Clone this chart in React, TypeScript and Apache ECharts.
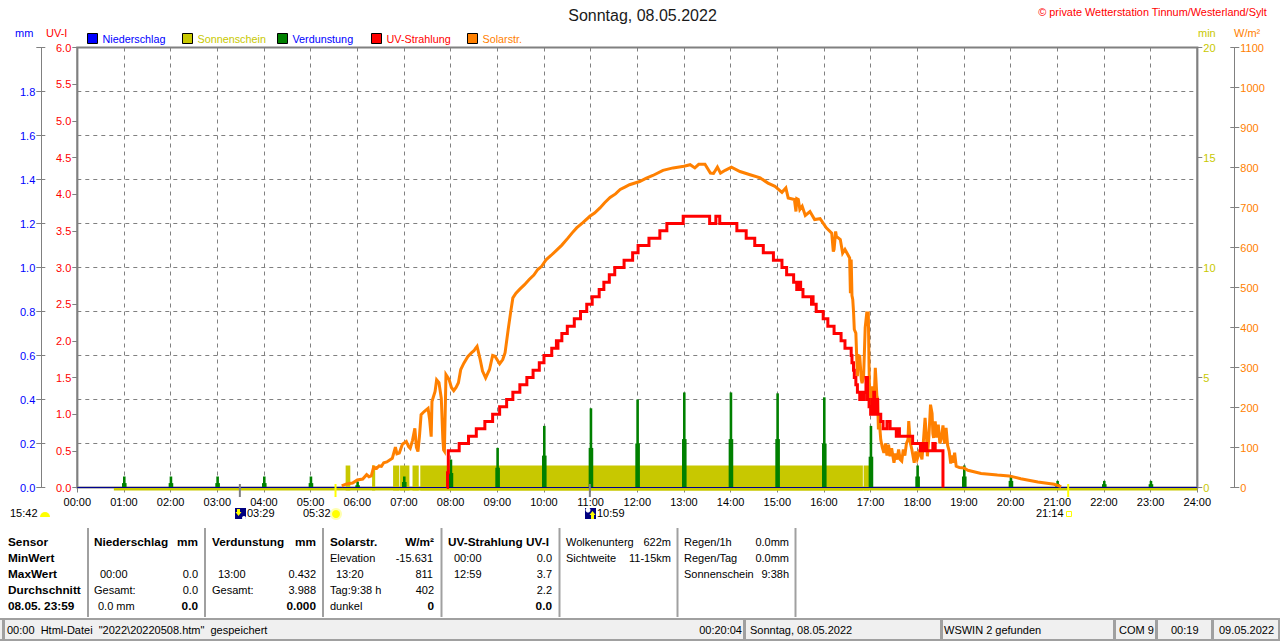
import React, { useEffect, useRef } from "react";
import * as echarts from "echarts";

const FONT = '"Liberation Sans", Arial, sans-serif';
const title = "Sonntag, 08.05.2022";
const copyright = "© private Wetterstation Tinnum/Westerland/Sylt";

// Solar radiation [time, W/m²]
const solar: [string, number][] = [
  ["05:40", 4], ["05:46", 9], ["05:54", 11], ["06:00", 19], ["06:07", 21], ["06:12", 32], ["06:15", 27], ["06:18", 29],
  ["06:21", 51], ["06:25", 48], ["06:28", 54], ["06:31", 53], ["06:34", 62], ["06:38", 64], ["06:45", 73], ["06:49", 101],
  ["06:51", 84], ["06:54", 86], ["06:58", 108], ["07:03", 115], ["07:06", 102], ["07:08", 98], ["07:11", 118], ["07:14", 148],
  ["07:16", 100], ["07:18", 90], ["07:20", 130], ["07:22", 182], ["07:26", 190], ["07:31", 198], ["07:33", 170], ["07:35", 127],
  ["07:36", 215], ["07:40", 240], ["07:42", 269], ["07:45", 262], ["07:48", 223], ["07:50", 120], ["07:51", 94], ["07:52", 91],
  ["07:54", 282], ["07:58", 270], ["08:01", 250], ["08:04", 242], ["08:07", 250], ["08:10", 262], ["08:13", 295], ["08:17", 311],
  ["08:22", 327], ["08:27", 337], ["08:30", 342], ["08:32", 348], ["08:34", 353], ["08:38", 320], ["08:41", 291], ["08:45", 274],
  ["08:50", 295], ["08:54", 330], ["08:57", 328], ["09:03", 309], ["09:07", 320], ["09:10", 337], ["09:14", 395], ["09:17", 436],
  ["09:20", 474], ["09:24", 486], ["09:29", 496], ["09:35", 507], ["09:41", 520], ["09:47", 531], ["09:52", 545], ["09:57", 553], ["10:03", 570], ["10:09", 580], ["10:16", 593], ["10:23", 606], ["10:31", 624], ["10:36", 636],
  ["10:42", 649], ["10:50", 662], ["10:59", 678], ["11:05", 686], ["11:12", 699], ["11:18", 712], ["11:25", 725], ["11:32", 734], ["11:38", 745], ["11:44", 751], ["11:50", 757], ["12:03", 765], ["12:11", 773], ["12:20", 780],
  ["12:33", 793], ["12:46", 799], ["13:00", 803], ["13:08", 807], ["13:14", 799], ["13:19", 808], ["13:27", 808], ["13:34", 786],
  ["13:38", 785], ["13:43", 801], ["13:47", 786], ["13:53", 793], ["14:01", 801], ["14:12", 790], ["14:25", 782], ["14:38", 774],
  ["14:48", 761], ["14:57", 753], ["15:06", 738], ["15:11", 749], ["15:14", 724], ["15:22", 720], ["15:24", 690], ["15:25", 722],
  ["15:27", 720], ["15:29", 695], ["15:32", 703], ["15:36", 680], ["15:42", 690], ["15:48", 670], ["15:55", 672], ["16:03", 649],
  ["16:10", 636], ["16:12", 590], ["16:13", 595], ["16:15", 640], ["16:16", 628], ["16:21", 620], ["16:24", 586], ["16:27", 595],
  ["16:33", 574], ["16:34", 486], ["16:35", 570], ["16:36", 480], ["16:37", 470], ["16:38", 440], ["16:39", 395], ["16:41", 386],
  ["16:43", 278], ["16:44", 330], ["16:46", 328], ["16:48", 270], ["16:49", 261], ["16:51", 280], ["16:53", 400], ["16:55", 436],
  ["16:57", 436], ["16:58", 300], ["16:59", 200], ["17:01", 225], ["17:02", 253], ["17:04", 190], ["17:06", 299], ["17:08", 230],
  ["17:09", 220], ["17:10", 145], ["17:11", 170], ["17:13", 120], ["17:15", 100], ["17:17", 87], ["17:19", 110], ["17:21", 80],
  ["17:23", 107], ["17:25", 78], ["17:27", 98], ["17:30", 62], ["17:32", 85], ["17:34", 70], ["17:36", 95], ["17:38", 70],
  ["17:40", 66], ["17:42", 95], ["17:44", 80], ["17:46", 110], ["17:48", 120], ["17:49", 166], ["17:51", 112], ["17:53", 95],
  ["17:56", 62], ["17:58", 90], ["18:00", 72], ["18:01", 78], ["18:03", 95], ["18:06", 70], ["18:08", 120], ["18:10", 174],
  ["18:12", 120], ["18:13", 78], ["18:15", 130], ["18:17", 207], ["18:19", 185], ["18:20", 135], ["18:21", 124], ["18:23", 165],
  ["18:25", 125], ["18:27", 157], ["18:29", 110], ["18:31", 124], ["18:33", 155], ["18:35", 110], ["18:37", 149], ["18:39", 105],
  ["18:41", 91], ["18:43", 60], ["18:44", 80], ["18:46", 62], ["18:48", 87], ["18:50", 53], ["18:54", 50], ["19:00", 49],
  ["19:05", 43], ["19:22", 35], ["19:43", 31], ["19:58", 29], ["20:13", 22], ["20:35", 14], ["20:56", 8], ["21:05", 2],
];

// UV index [time, UV-I]; each level holds until the next entry
const uv: [string, number][] = [
  ["07:55", 0], ["07:56", 0.2], ["07:57", 0.5], ["08:11", 0.6], ["08:23", 0.7], ["08:33", 0.8], ["08:44", 0.9], ["08:54", 1.0],
  ["09:03", 1.1], ["09:12", 1.2], ["09:20", 1.3], ["09:29", 1.4], ["09:38", 1.5], ["09:46", 1.6], ["09:54", 1.7], ["10:00", 1.8],
  ["10:10", 1.9], ["10:16", 2.0], ["10:17", 1.9], ["10:18", 2.0], ["10:23", 2.1], ["10:30", 2.2], ["10:39", 2.3], ["10:47", 2.4],
  ["10:55", 2.5], ["11:02", 2.6], ["11:11", 2.7], ["11:17", 2.8], ["11:24", 2.9], ["11:31", 3.0], ["11:43", 3.1], ["11:54", 3.2],
  ["12:01", 3.3], ["12:15", 3.4], ["12:29", 3.5], ["12:38", 3.6], ["12:59", 3.7], ["13:33", 3.6], ["13:41", 3.7], ["13:46", 3.6],
  ["14:08", 3.5], ["14:20", 3.4], ["14:31", 3.3], ["14:42", 3.2], ["14:55", 3.1], ["15:06", 3.0], ["15:12", 2.9], ["15:21", 2.8],
  ["15:25", 2.7], ["15:26", 2.8], ["15:27", 2.7], ["15:28", 2.8], ["15:30", 2.7], ["15:33", 2.6], ["15:44", 2.5], ["15:45", 2.6],
  ["15:46", 2.5], ["15:50", 2.4], ["15:59", 2.3], ["16:05", 2.2], ["16:13", 2.1], ["16:22", 2.0], ["16:27", 1.9], ["16:35", 1.8],
  ["16:36", 1.7], ["16:38", 1.6], ["16:39", 1.5], ["16:41", 1.4], ["16:43", 1.3], ["16:46", 1.2], ["16:48", 1.3], ["16:50", 1.2],
  ["16:52", 1.3], ["16:54", 1.5], ["16:56", 1.2], ["16:58", 1.1], ["17:00", 1.0], ["17:02", 1.2], ["17:04", 1.3], ["17:05", 1.0],
  ["17:07", 1.2], ["17:09", 1.0], ["17:13", 0.9], ["17:16", 0.8], ["17:21", 0.9], ["17:25", 0.8], ["17:33", 0.7], ["17:35", 0.8],
  ["17:37", 0.7], ["17:54", 0.6], ["18:04", 0.5], ["18:06", 0.6], ["18:08", 0.5], ["18:10", 0.6], ["18:12", 0.5], ["18:20", 0.6],
  ["18:23", 0.5], ["18:33", 0],
];

// Evaporation per full hour [hour, peak mm, shoulder mm]
const evaporation: [number, number, number][] = [
  [1, 0.05, 0.02], [2, 0.05, 0.02], [3, 0.05, 0.02], [4, 0.05, 0.02], [5, 0.05, 0.02], [6, 0.027, 0.01], [7, 0.05, 0.025],
  [8, 0.127, 0.066], [9, 0.18, 0.09], [10, 0.28, 0.145], [11, 0.36, 0.18], [12, 0.4, 0.2], [13, 0.432, 0.22], [14, 0.432, 0.22],
  [15, 0.428, 0.22], [16, 0.41, 0.2], [17, 0.28, 0.14], [18, 0.1, 0.05], [19, 0.1, 0.05], [20, 0.055, 0.03], [21, 0.03, 0.015],
  [22, 0.03, 0.015], [23, 0.03, 0.015],
];

// Sunshine [from, to, minutes]
const sunshine: [string, string, number][] = [
  ["00:47", "24:00", 0], ["05:45", "05:51", 1], ["06:19", "06:23", 1], ["06:46", "06:54", 1], ["06:55", "07:07", 1],
  ["07:11", "07:19", 1], ["07:21", "16:50", 1], ["16:51", "16:58", 1],
];

const rain: [string, number][] = [["00:00", 0], ["24:00", 0]];
const sunEvents: string[] = ["05:32", "21:14"];
const moonEvents: string[] = ["03:29", "10:59"];

const uvTicksMax = 6;
const mmTicksMax = 2;
const minTicksMax = 20;
const wattTicksMax = 1100;

const legendItems = [
  { name: "Niederschlag", color: "#0000ff", text: "#0000ff", left: 87 },
  { name: "Sonnenschein", color: "#c8c800", text: "#c8c800", left: 182 },
  { name: "Verdunstung", color: "#008000", text: "#0000ff", left: 277 },
  { name: "UV-Strahlung", color: "#ff0000", text: "#ff0000", left: 371 },
  { name: "Solarstr.", color: "#ff8000", text: "#ff8000", left: 467 },
];

type Cell = [string, number, number, ("left" | "right")?, boolean?];
const tableCells: Cell[] = [
  ["Sensor", 8, 542, "left", true], ["MinWert", 8, 558, "left", true], ["MaxWert", 8, 574, "left", true],
  ["Durchschnitt", 8, 590, "left", true], ["08.05. 23:59", 8, 606, "left", true],
  ["Niederschlag", 94, 542, "left", true], ["mm", 198, 542, "right", true], ["00:00", 100, 574], ["0.0", 198, 574, "right"],
  ["Gesamt:", 94, 590], ["0.0", 198, 590, "right"], ["0.0 mm", 98, 606], ["0.0", 198, 606, "right", true],
  ["Verdunstung", 212, 542, "left", true], ["mm", 316, 542, "right", true], ["13:00", 218, 574], ["0.432", 316, 574, "right"],
  ["Gesamt:", 212, 590], ["3.988", 316, 590, "right"], ["0.000", 316, 606, "right", true],
  ["Solarstr.", 330, 542, "left", true], ["W/m²", 434, 542, "right", true], ["Elevation", 330, 558], ["-15.631", 433, 558, "right"],
  ["13:20", 336, 574], ["811", 433, 574, "right"], ["Tag:9:38 h", 330, 590], ["402", 434, 590, "right"], ["dunkel", 330, 606],
  ["0", 434, 606, "right", true],
  ["UV-Strahlung UV-I", 448, 542, "left", true], ["00:00", 454, 558], ["0.0", 552, 558, "right"], ["12:59", 454, 574],
  ["3.7", 552, 574, "right"], ["2.2", 552, 590, "right"], ["0.0", 552, 606, "right", true],
  ["Wolkenunterg", 566, 542], ["622m", 671, 542, "right"], ["Sichtweite", 566, 558], ["11-15km", 671, 558, "right"],
  ["Regen/1h", 684, 542], ["0.0mm", 789, 542, "right"], ["Regen/Tag", 684, 558], ["0.0mm", 789, 558, "right"],
  ["Sonnenschein", 684, 574], ["9:38h", 789, 574, "right"],
  ["15:42", 10, 513], ["03:29", 247, 513], ["05:32", 303, 513], ["10:59", 597, 513], ["21:14", 1036, 513],
  ["00:00  Html-Datei  \"2022\\20220508.htm\"  gespeichert", 7, 630], ["00:20:04", 742, 630, "right"], ["Sonntag, 08.05.2022", 750, 630],
  ["WSWIN 2 gefunden", 944, 630], ["COM 9", 1119, 630], ["00:19", 1171, 630], ["09.05.2022", 1219, 630],
];
const tableSeparators = [88, 205, 323, 441.5, 559.5, 677.5, 795.5];
const statusSeparators = [3.5, 744.5, 941.5, 1114.5, 1156.5, 1212.5];

const toMin = (s: string) => {
  const [h, m] = s.split(":").map(Number);
  return h * 60 + m;
};
const hhmm = (v: number) => `${String(Math.floor(v / 60)).padStart(2, "0")}:00`;

export default function App() {
  const ref = useRef<HTMLDivElement>(null);
  useEffect(() => {
    document.body.style.margin = "0";
    const chart = echarts.init(ref.current!, undefined, { renderer: "svg" });
    const GRAY = "#808080";
    const font = (bold?: boolean) => `${bold ? "bold 11.8px" : "11px"} ${FONT}`;
    const txt = (text: string, x: number, y: number, fill = "#000", align = "left", bold = false) => ({
      type: "text", x, y, silent: true, z: 20,
      style: { text, fill, font: font(bold), align, verticalAlign: "middle" },
    });
    const line = (x1: number, y1: number, x2: number, y2: number, stroke: string, lineWidth = 2) => ({
      type: "line", silent: true, z: 10, shape: { x1, y1, x2, y2 }, style: { stroke, lineWidth },
    });
    const rect = (x: number, y: number, width: number, height: number, style: any, z = 10) => ({
      type: "rect", silent: true, z, shape: { x, y, width, height }, style,
    });

    const graphics: any[] = [
      txt("mm", 15, 33, "#0000ff"), txt("UV-I", 46, 33, "#ff0000"),
      txt("min", 1198, 33, "#c8c800"), txt("W/m²", 1234, 33, "#ff8000"),
      rect(0, 618, 1280, 23, { fill: "#f0f0f0" }, 5),
      line(0, 619, 1280, 619, "#a0a0a0"), line(0, 640, 1280, 640, "#a0a0a0"),
      line(1279, 618, 1279, 641, "#a0a0a0"),
      ...statusSeparators.map((x) => line(x, 619, x, 640, "#a0a0a0", 3)),
      ...tableSeparators.map((x) => line(x, 528, x, 617, "#a0a0a0")),
      ...tableCells.map(([t, x, y, a, b]) => txt(t, x, y, "#000", a || "left", !!b)),
      { type: "sector", silent: true, z: 12, shape: { cx: 45, cy: 517, r: 5, startAngle: Math.PI, endAngle: 2 * Math.PI }, style: { fill: "#ffff00" } },
      rect(235, 508, 11, 11, { fill: "#000080" }, 12),
      { type: "polygon", silent: true, z: 13, shape: { points: [[237, 509], [240, 509], [240, 512], [241.5, 512], [238.5, 516], [235.5, 512], [237, 512]] }, style: { fill: "#ffff00" } },
      { type: "circle", silent: true, z: 13, shape: { cx: 244, cy: 518, r: 2 }, style: { fill: "#ffffff" } },
      rect(585, 508, 11, 11, { fill: "#000080" }, 12),
      { type: "polygon", silent: true, z: 13, shape: { points: [[592.5, 511], [595.5, 515], [594, 515], [594, 519], [591, 519], [591, 515], [589.5, 515]] }, style: { fill: "#ffff00" } },
      { type: "circle", silent: true, z: 13, shape: { cx: 588, cy: 510, r: 2.5 }, style: { fill: "#ffffff" } },
      { type: "circle", silent: true, z: 12, shape: { cx: 336, cy: 514, r: 6 }, style: { fill: "#ffffb0" } },
      { type: "circle", silent: true, z: 13, shape: { cx: 336, cy: 514, r: 4 }, style: { fill: "#ffff00" } },
      rect(1066.5, 511.5, 5, 5, { fill: "none", stroke: "#ffff00", lineWidth: 1 }, 12),
    ];

    const valueAxis = (max: number, interval: number, color: string, position: string, offset: number, fmt: (v: number) => string, extra: any = {}) => ({
      type: "value", min: 0, max, interval, position, offset,
      axisLine: { show: false, lineStyle: { color: GRAY } },
      axisTick: { show: true, length: 5, lineStyle: { color: GRAY } },
      axisLabel: { color, fontFamily: FONT, fontSize: 11, margin: 6, formatter: fmt },
      splitLine: { show: false },
      ...extra,
    });
    const f1 = (v: number) => v.toFixed(1);
    const crossTicks = (max: number, interval: number, position: string, offset: number) => ({
      type: "value", min: 0, max, interval, position, offset,
      axisLine: { show: false },
      axisTick: { show: true, inside: true, length: 4, lineStyle: { color: GRAY } },
      axisLabel: { show: false },
      splitLine: { show: false },
    });

    const rectAt = (api: any, x: number, w: number, v: number, yAdd: number, fill: string) => {
      const top = api.coord([x, v]);
      const base = api.coord([x, 0]);
      return { type: "rect", shape: { x: top[0] - w / 2, y: top[1], width: w, height: base[1] - top[1] + yAdd }, style: { fill } };
    };

    chart.setOption({
      animation: false,
      backgroundColor: "#ffffff",
      textStyle: { fontFamily: FONT },
      title: [
        { text: title, left: 637.5, top: 2, textAlign: "center", textStyle: { fontFamily: FONT, fontSize: 16, lineHeight: 16, fontWeight: "normal", color: "#1a1a1a" } },
        { text: copyright, right: 8, top: 1, textStyle: { fontFamily: FONT, fontSize: 10.9, lineHeight: 12, fontWeight: "normal", color: "#ff0000" } },
      ],
      legend: legendItems.map((l) => ({
        left: l.left, top: 33, padding: 0, itemWidth: 10, itemHeight: 10, selectedMode: false,
        textStyle: { color: l.text, fontFamily: FONT, fontSize: 10.8 },
        data: [{ name: l.name, icon: "rect", itemStyle: { color: l.color, borderColor: "#000", borderWidth: 1 } }],
      })),
      grid: { left: 77.3, top: 47.5, width: 1120, height: 440, show: true, borderColor: GRAY, borderWidth: 2.2, backgroundColor: "transparent" },
      xAxis: {
        type: "value", min: 0, max: 1440, interval: 60,
        axisLine: { show: false },
        axisTick: { show: true, length: 5, lineStyle: { color: GRAY } },
        axisLabel: { color: "#000", fontFamily: FONT, fontSize: 11, margin: 9, formatter: hhmm },
        splitLine: { show: true, lineStyle: { color: GRAY, type: [4, 4], width: 1 } },
      },
      yAxis: [
        valueAxis(uvTicksMax, 0.5, "#ff0000", "left", 0, f1),
        valueAxis(mmTicksMax, 0.2, "#0000ff", "left", 36, (v) => (v >= 2 ? "" : v.toFixed(1)), {
          axisLine: { show: true, lineStyle: { color: GRAY } },
          splitLine: { show: true, lineStyle: { color: GRAY, type: [4, 4], width: 1 } },
        }),
        valueAxis(minTicksMax, 5, "#c8c800", "right", 0, (v) => String(v)),
        valueAxis(wattTicksMax, 100, "#ff8000", "right", 37, (v) => String(v), { axisLine: { show: true, lineStyle: { color: GRAY } } }),
        crossTicks(mmTicksMax, 0.2, "left", 36),
        crossTicks(wattTicksMax, 100, "right", 37),
      ],
      graphic: graphics,
      series: [
        {
          name: "Sonnenschein", type: "custom", xAxisIndex: 0, yAxisIndex: 2, z: 2, silent: true,
          data: sunshine.map(([a, b, v]) => [toMin(a), toMin(b), v]),
          encode: { x: [0, 1], y: 2 },
          renderItem: (_: any, api: any) => {
            const a = api.coord([api.value(0), api.value(2)]);
            const b = api.coord([api.value(1), 0]);
            return { type: "rect", shape: { x: a[0], y: a[1], width: b[0] - a[0], height: b[1] - a[1] + 3 }, style: { fill: "#c8c800" } };
          },
        },
        {
          name: "Verdunstung", type: "custom", xAxisIndex: 0, yAxisIndex: 1, z: 3, silent: true,
          data: evaporation.map(([h, p, s]) => [h * 60, p, s]),
          encode: { x: 0, y: 1 },
          renderItem: (_: any, api: any) => ({
            type: "group",
            children: [
              rectAt(api, api.value(0) + 0.4, 4.6, api.value(2), 0, "#008000"),
              rectAt(api, api.value(0) + 0.4, 2.6, api.value(1), 0, "#008000"),
            ],
          }),
        },
        {
          name: "Niederschlag", type: "line", xAxisIndex: 0, yAxisIndex: 1, z: 4, silent: true, symbol: "none",
          lineStyle: { color: "#000090", width: 1 }, itemStyle: { color: "#0000ff" },
          data: rain.map(([t, v]) => [toMin(t), v]),
        },
        {
          name: "Solarstr.", type: "line", xAxisIndex: 0, yAxisIndex: 3, z: 5, silent: true, symbol: "none",
          lineStyle: { color: "#ff8000", width: 3, join: "miter" }, itemStyle: { color: "#ff8000" },
          data: solar.map(([t, v]) => [toMin(t), v]),
        },
        {
          name: "UV-Strahlung", type: "line", xAxisIndex: 0, yAxisIndex: 0, z: 6, silent: true, symbol: "none", step: "end",
          lineStyle: { color: "#ff0000", width: 3, join: "miter" }, itemStyle: { color: "#ff0000" },
          data: uv.map(([t, v]) => [toMin(t), v]),
        },
        {
          name: "Ereignisse", type: "custom", xAxisIndex: 0, yAxisIndex: 0, z: 7, silent: true,
          data: [...sunEvents.map((t) => [toMin(t), 1]), ...moonEvents.map((t) => [toMin(t), 0])],
          encode: { x: 0 },
          renderItem: (_: any, api: any) => {
            const p = api.coord([api.value(0), 0]);
            return { type: "rect", shape: { x: p[0] - 1, y: p[1] - 3.5, width: 2, height: 13 }, style: { fill: api.value(1) ? "#ffff00" : GRAY } };
          },
        },
      ],
    });
    return () => chart.dispose();
  }, []);
  return <div ref={ref} style={{ position: "fixed", left: 0, top: 0, width: 1280, height: 641 }} />;
}
